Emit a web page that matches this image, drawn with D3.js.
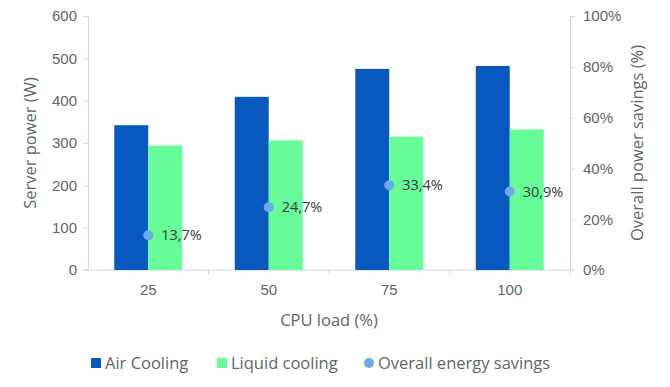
<!DOCTYPE html>
<html>
<head>
<meta charset="utf-8">
<script src="https://cdn.jsdelivr.net/npm/d3@7"></script>
<style>
  body { margin: 0; background: #fff; }
  svg { font-family: "Open Sans", "Noto Sans", sans-serif; }
</style>
</head>
<body>
<svg id="chart" width="670" height="387"></svg>
<script>
// chart values
var cpuLoad = ["25", "50", "75", "100"];
var airCooling = [342, 409, 475, 482];
var liquidCooling = [294, 306, 315, 332];
var energySavings = [13.7, 24.7, 33.4, 30.9];
var savingsLabels = ["13,7%", "24,7%", "33,4%", "30,9%"];
var powerTicks = [0, 100, 200, 300, 400, 500, 600];
var percentTicks = [0, 20, 40, 60, 80, 100];

var textColor = "#5a6868";
var axisColor = "#c5dede";

var svg = d3.select("#chart");
var plotLeft = 88, plotRight = 570, plotTop = 16, plotBottom = 270;

var xScale = d3.scaleBand().domain(cpuLoad).range([plotLeft, plotRight]);
var yScale = d3.scaleLinear().domain([0, 600]).range([plotBottom, plotTop]);
var pScale = d3.scaleLinear().domain([0, 100]).range([plotBottom, plotTop]);
var barWidth = 34;

// left axis
var yAxis = svg.append("g").attr("transform", "translate(" + plotLeft + ",0)")
	.call(d3.axisLeft(yScale).tickValues(powerTicks).tickSize(5).tickPadding(6));
// right axis
var pAxis = svg.append("g").attr("transform", "translate(" + plotRight + ",0)")
	.call(d3.axisRight(pScale).tickValues(percentTicks).tickSize(5).tickPadding(8)
		.tickFormat(function(d) { return d + "%"; }));
// x axis
var xAxis = svg.append("g").attr("transform", "translate(0," + plotBottom + ")")
	.call(d3.axisBottom(xScale).tickSize(0).tickPadding(14));
xAxis.selectAll(".tick").append("line")
	.attr("x1", xScale.bandwidth() / 2).attr("x2", xScale.bandwidth() / 2)
	.attr("y1", 0).attr("y2", 5);
xAxis.append("line").attr("x1", plotLeft - 5).attr("x2", plotLeft).attr("y1", 0).attr("y2", 0);

[yAxis, pAxis, xAxis].forEach(function(g) {
	g.selectAll(".domain, line").attr("stroke", axisColor);
	g.selectAll("text").attr("fill", textColor).style("font-size", "15px");
});
xAxis.select(".domain").attr("d", "M" + plotLeft + ",0H" + (plotRight + 5));

// bars
svg.append("g").selectAll("rect").data(airCooling).enter().append("rect")
	.attr("x", function(d, i) { return xScale(cpuLoad[i]) + xScale.bandwidth() / 2 - barWidth; })
	.attr("y", function(d) { return yScale(d); })
	.attr("width", barWidth)
	.attr("height", function(d) { return plotBottom - yScale(d); })
	.attr("fill", "#0759c0");
svg.append("g").selectAll("rect").data(liquidCooling).enter().append("rect")
	.attr("x", function(d, i) { return xScale(cpuLoad[i]) + xScale.bandwidth() / 2; })
	.attr("y", function(d) { return yScale(d); })
	.attr("width", barWidth)
	.attr("height", function(d) { return plotBottom - yScale(d); })
	.attr("fill", "#66fc98");

// savings points
var pts = svg.append("g");
pts.selectAll("circle").data(energySavings).enter().append("circle")
	.attr("cx", function(d, i) { return xScale(cpuLoad[i]) + xScale.bandwidth() / 2; })
	.attr("cy", function(d) { return pScale(d); })
	.attr("r", 5)
	.attr("fill", "#6aaae6");
pts.selectAll("text").data(energySavings).enter().append("text")
	.attr("x", function(d, i) { return xScale(cpuLoad[i]) + xScale.bandwidth() / 2 + 13; })
	.attr("y", function(d) { return pScale(d) + 5; })
	.attr("fill", "#333a3a")
	.style("font-size", "14.5px")
	.text(function(d, i) { return savingsLabels[i]; });

// axis titles
svg.append("text").attr("transform", "translate(36," + (plotTop + plotBottom) / 2 + ") rotate(-90)")
	.attr("text-anchor", "middle").attr("fill", textColor).style("font-size", "16.5px")
	.text("Server power (W)");
svg.append("text").attr("transform", "translate(643," + (plotTop + plotBottom) / 2 + ") rotate(-90)")
	.attr("text-anchor", "middle").attr("fill", textColor).style("font-size", "16.5px")
	.text("Overall power savings (%)");
svg.append("text").attr("x", (plotLeft + plotRight) / 2).attr("y", 326)
	.attr("text-anchor", "middle").attr("fill", textColor).style("font-size", "16.5px")
	.text("CPU load (%)");

// legend
var legendItems = [
	{ label: "Air Cooling", color: "#0759c0", shape: "rect", x: 91 },
	{ label: "Liquid cooling", color: "#66fc98", shape: "rect", x: 217 },
	{ label: "Overall energy savings", color: "#6aaae6", shape: "circle", x: 364 }
];
var legend = svg.append("g").selectAll("g").data(legendItems).enter().append("g")
	.attr("transform", function(d) { return "translate(" + d.x + ",363)"; });
legend.each(function(d) {
	var g = d3.select(this);
	if (d.shape === "rect") {
		g.append("rect").attr("x", 0).attr("y", -5).attr("width", 10).attr("height", 10).attr("fill", d.color);
	} else {
		g.append("circle").attr("cx", 5).attr("cy", 0).attr("r", 5).attr("fill", d.color);
	}
	g.append("text").attr("x", 14).attr("y", 6).attr("fill", textColor).style("font-size", "16.5px").text(d.label);
});
</script>
</body>
</html>
